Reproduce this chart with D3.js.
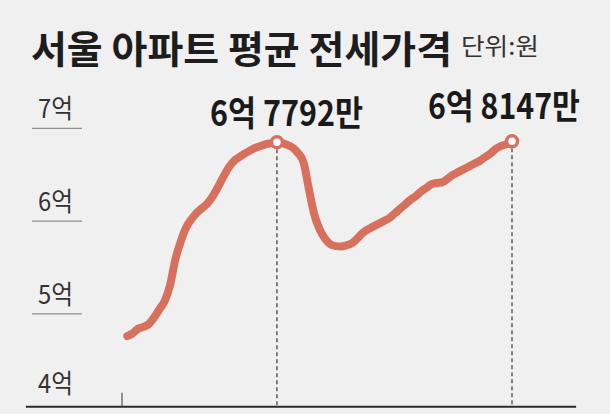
<!DOCTYPE html>
<html><head><meta charset="utf-8">
<script src="https://cdn.jsdelivr.net/npm/d3@7/dist/d3.min.js"></script>
<style>
html,body{margin:0;padding:0;background:#f0f0f0;}
svg{display:block;}
text{font-family:"Noto Sans CJK KR","Noto Sans",sans-serif;}
</style></head>
<body>
<svg id="c" width="610" height="414"></svg>
<script>
const title = "서울 아파트 평균 전세가격";
const unit = "단위:원";
const tickValues = [4, 5, 6, 7];
const tickLabels = ["4억", "5억", "6억", "7억"];
const months = d3.range(1, 74);
const values = [
  4.76, 4.79, 4.84, 4.86, 4.89, 4.96, 5.05, 5.14, 5.31, 5.59,
  5.78, 5.93, 6.02, 6.09, 6.14, 6.19, 6.27, 6.37, 6.48, 6.58,
  6.65, 6.69, 6.73, 6.76, 6.79, 6.81, 6.83, 6.84, 6.85, 6.84,
  6.82, 6.79, 6.73, 6.63, 6.34, 6.07, 5.91, 5.81, 5.75, 5.73,
  5.726, 5.74, 5.76, 5.81, 5.87, 5.91, 5.94, 5.97, 6.00, 6.03,
  6.08, 6.13, 6.18, 6.23, 6.27, 6.32, 6.36, 6.40, 6.41, 6.42,
  6.46, 6.50, 6.53, 6.56, 6.59, 6.62, 6.65, 6.69, 6.73, 6.78,
  6.81, 6.83, 6.86
];
const highlights = [
  {month: 29, label: "6억 7792만"},
  {month: 73, label: "6억 8147만"}
];
const axisTickMonth = 0;

const svg = d3.select("#c");
const x = d3.scaleLinear().domain([0, 73]).range([122, 512]);
const y = d3.scaleLinear().domain([4, 7]).range([406.7, 128.3]);
const data = months.map((m, i) => ({m, v: values[i]}));
const lineColor = "#d8705e";

// title
svg.append("text").attr("x", 31).attr("y", 63)
  .attr("font-size", 38).attr("font-weight", 700).attr("fill", "#1d1d1d")
  .attr("textLength", 421).attr("lengthAdjust", "spacingAndGlyphs")
  .text(title);
svg.append("text").attr("x", 461).attr("y", 55)
  .attr("font-size", 24).attr("fill", "#333")
  .attr("textLength", 78).attr("lengthAdjust", "spacingAndGlyphs")
  .text(unit);

// y grid + labels
tickValues.forEach((v, i) => {
  if (v !== 4) {
    svg.append("line").attr("x1", 32).attr("x2", 82)
      .attr("y1", y(v)).attr("y2", y(v))
      .attr("stroke", "#777").attr("stroke-width", 1);
  }
  svg.append("text").attr("x", 38).attr("y", y(v) - (v === 4 ? 14 : 10))
    .attr("font-size", 26).attr("fill", "#333")
    .attr("textLength", 35).attr("lengthAdjust", "spacingAndGlyphs")
    .text(tickLabels[i]);
});

// baseline
svg.append("line").attr("x1", x(-18)).attr("x2", x(85))
  .attr("y1", y(4)).attr("y2", y(4))
  .attr("stroke", "#2a2a2a").attr("stroke-width", 2);
svg.append("line").attr("x1", x(axisTickMonth)).attr("x2", x(axisTickMonth))
  .attr("y1", y(4) - 14).attr("y2", y(4))
  .attr("stroke", "#333").attr("stroke-width", 1);

// dashed lines
highlights.forEach(h => {
  const v = values[months.indexOf(h.month)];
  svg.append("line").attr("x1", x(h.month)).attr("x2", x(h.month))
    .attr("y1", y(v)).attr("y2", y(4))
    .attr("stroke", "#444").attr("stroke-width", 1.3)
    .attr("stroke-dasharray", "4,3");
});

// line
const line = d3.line().x(d => x(d.m)).y(d => y(d.v)).curve(d3.curveMonotoneX);
svg.append("path").datum(data).attr("d", line)
  .attr("fill", "none").attr("stroke", lineColor)
  .attr("stroke-width", 8).attr("stroke-linecap", "round").attr("stroke-linejoin", "round");

// circles + labels
const labelPos = [{x: 210, y: 126, w: 153}, {x: 428, y: 119, w: 152}];
highlights.forEach((h, i) => {
  const v = values[months.indexOf(h.month)];
  svg.append("circle").attr("cx", x(h.month)).attr("cy", y(v)).attr("r", 5.5)
    .attr("fill", "#fff").attr("stroke", lineColor).attr("stroke-width", 3.5);
  svg.append("text").attr("x", labelPos[i].x).attr("y", labelPos[i].y)
    .attr("font-size", 35).attr("font-weight", 700).attr("fill", "#1a1a1a")
    .attr("textLength", labelPos[i].w).attr("lengthAdjust", "spacingAndGlyphs")
    .text(h.label);
});
</script>
</body></html>
